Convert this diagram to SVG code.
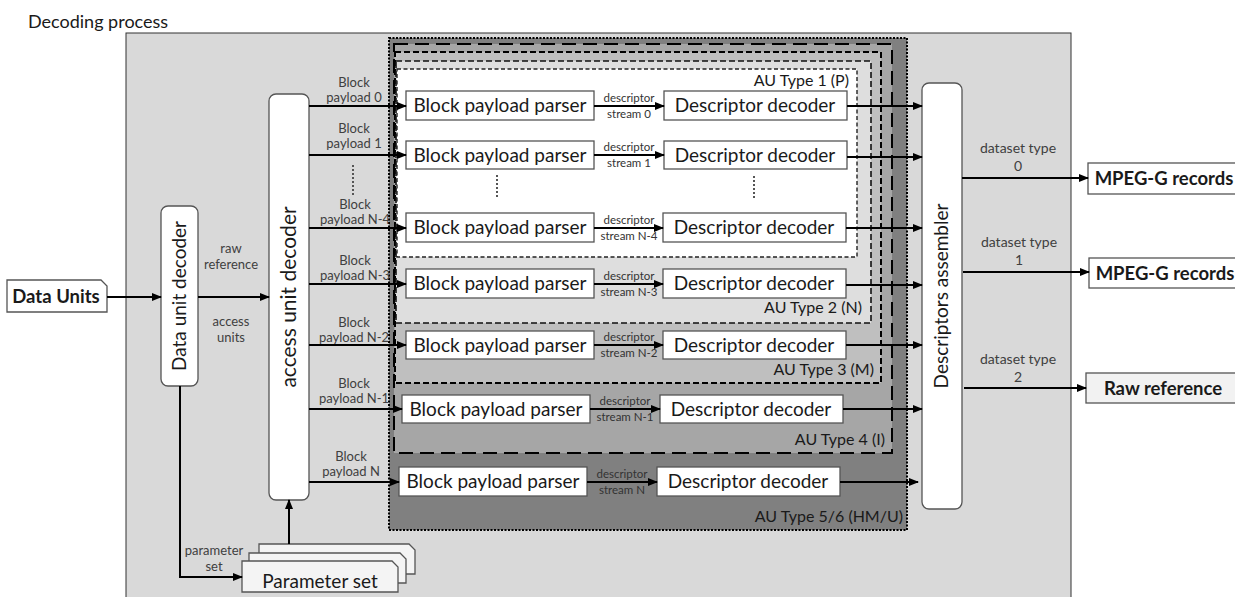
<svg xmlns="http://www.w3.org/2000/svg" width="1235" height="597" viewBox="0 0 1235 597">
<style>
text{font-family:Lato,"Open Sans",sans-serif;fill:#1a1a1a}
.lbl{font-size:13px;fill:#404040;text-anchor:middle}
.ds{font-size:14px;fill:#404040;text-anchor:middle}
.sm{font-size:11.5px;fill:#333;text-anchor:middle}
.big{font-size:19px;text-anchor:middle}
.au{font-size:16px;text-anchor:end}
.bold{font-size:18.5px;font-weight:bold;text-anchor:middle}
.box{fill:#fff;stroke:#555;stroke-width:1.3}
.con{stroke:#000;stroke-width:2;fill:none}
.dot{stroke:#555;stroke-width:2;stroke-dasharray:2,2;fill:none}
</style>
<defs>
<marker id="ah" markerUnits="userSpaceOnUse" markerWidth="10" markerHeight="8" refX="9" refY="4" orient="auto">
<path d="M0,0 L10,4 L0,8 Z" fill="#000"/>
</marker>
</defs>
<rect width="1235" height="597" fill="#fff"/>
<text x="28" y="28" style="font-size:18px">Decoding process</text>
<rect x="126" y="33" width="945" height="580" fill="#d9d9d9" stroke="#333" stroke-width="1"/>

<g id="au56">
<rect x="389" y="38" width="518" height="492" fill="#808080" stroke="#000" stroke-width="2" stroke-dasharray="2,1.5"/>
<text class="au" x="903" y="522">AU Type 5/6 (HM/U)</text>
</g>
<g id="au4">
<rect x="394" y="44" width="498" height="409" fill="#a6a6a6" stroke="#000" stroke-width="2" stroke-dasharray="14,7"/>
<text class="au" x="885" y="445">AU Type 4 (I)</text>
</g>
<g id="au3">
<rect x="395" y="52" width="486" height="331" fill="#bfbfbf" stroke="#000" stroke-width="2" stroke-dasharray="6,3"/>
<text class="au" x="874" y="375">AU Type 3 (M)</text>
</g>
<g id="au2">
<rect x="396" y="61" width="475" height="262" fill="#dedede" stroke="#111" stroke-width="1.6" stroke-dasharray="6,3"/>
<text class="au" x="862" y="313">AU Type 2 (N)</text>
</g>
<g id="au1">
<rect x="397" y="69" width="460" height="188" fill="#fff" stroke="#222" stroke-width="1.4" stroke-dasharray="4,2.5"/>
<text class="au" x="849" y="86">AU Type 1 (P)</text>
</g>

<g id="data-units">
<path d="M7,280 H101 L107,286 V312 H7 Z" fill="#fff" stroke="#555" stroke-width="1.3"/>
<text class="bold" x="56" y="303">Data Units</text>
</g>
<g id="data-unit-decoder">
<rect x="161" y="206" width="37" height="180" rx="7" class="box"/>
<text transform="translate(186,296) rotate(-90)" style="font-size:19px;text-anchor:middle">Data unit decoder</text>
</g>
<g id="access-unit-decoder">
<rect x="269" y="94" width="40" height="406" rx="7" class="box"/>
<text transform="translate(296,297) rotate(-90)" style="font-size:21px;text-anchor:middle">access unit decoder</text>
</g>
<g id="descriptors-assembler">
<rect x="922" y="83" width="40" height="426" rx="7" class="box"/>
<text transform="translate(948,296) rotate(-90)" style="font-size:19px;text-anchor:middle">Descriptors assembler</text>
</g>
<g id="parameter-set">
<path d="M259,544 H409 L415,550 V574 H259 Z" fill="#f4f4f4" stroke="#555" stroke-width="1.3"/>
<path d="M249,553 H400 L406,559 V583 H249 Z" fill="#f4f4f4" stroke="#555" stroke-width="1.3"/>
<path d="M242,561 H392 L398,567 V592 H242 Z" fill="#f4f4f4" stroke="#555" stroke-width="1.3"/>
<text class="big" x="320" y="588">Parameter set</text>
</g>

<g id="parsers">
<g id="bpp0"><rect x="406" y="91" width="188" height="29" class="box"/><text class="big" x="500" y="112">Block payload parser</text></g>
<g id="bpp1"><rect x="406" y="141" width="188" height="28" class="box"/><text class="big" x="500" y="162">Block payload parser</text></g>
<g id="bpp4"><rect x="406" y="213" width="188" height="29" class="box"/><text class="big" x="500" y="234">Block payload parser</text></g>
<g id="bpp3"><rect x="406" y="269" width="188" height="29" class="box"/><text class="big" x="500" y="290">Block payload parser</text></g>
<g id="bpp2"><rect x="406" y="331" width="188" height="28" class="box"/><text class="big" x="500" y="352">Block payload parser</text></g>
<g id="bpp1n"><rect x="402" y="395" width="188" height="28" class="box"/><text class="big" x="496" y="416">Block payload parser</text></g>
<g id="bppn"><rect x="399" y="467" width="188" height="29" class="box"/><text class="big" x="493" y="488">Block payload parser</text></g>
</g>
<g id="decoders">
<g id="dd0"><rect x="664" y="91" width="183" height="29" class="box"/><text class="big" x="755" y="112">Descriptor decoder</text></g>
<g id="dd1"><rect x="664" y="141" width="183" height="28" class="box"/><text class="big" x="755" y="162">Descriptor decoder</text></g>
<g id="dd4"><rect x="663" y="213" width="183" height="29" class="box"/><text class="big" x="754" y="234">Descriptor decoder</text></g>
<g id="dd3"><rect x="663" y="269" width="183" height="29" class="box"/><text class="big" x="754" y="290">Descriptor decoder</text></g>
<g id="dd2"><rect x="663" y="331" width="183" height="28" class="box"/><text class="big" x="754" y="352">Descriptor decoder</text></g>
<g id="dd1n"><rect x="660" y="395" width="183" height="28" class="box"/><text class="big" x="751" y="416">Descriptor decoder</text></g>
<g id="ddn"><rect x="657" y="467" width="183" height="29" class="box"/><text class="big" x="748" y="488">Descriptor decoder</text></g>
</g>
<g id="outputs">
<g id="mpeg0"><rect x="1088" y="163" width="150" height="31" class="box"/><text class="bold" x="1164" y="185">MPEG-G records</text></g>
<g id="mpeg1"><rect x="1089" y="258" width="150" height="30" class="box"/><text class="bold" x="1165" y="280">MPEG-G records</text></g>
<g id="rawref"><rect x="1086" y="373" width="152" height="30" fill="#f2f2f2" stroke="#555" stroke-width="1.3"/><text class="bold" x="1163" y="395">Raw reference</text></g>
</g>

<g id="connectors">
<line class="con" x1="107" y1="297" x2="161" y2="297" marker-end="url(#ah)"/>
<line class="con" x1="198" y1="297" x2="269" y2="297" marker-end="url(#ah)"/>
<polyline class="con" points="180,386 180,577 242,577" marker-end="url(#ah)"/>
<line class="con" x1="289" y1="544" x2="289" y2="500" marker-end="url(#ah)"/>

<line class="con" x1="309" y1="106" x2="406" y2="106" marker-end="url(#ah)"/>
<line class="con" x1="309" y1="155" x2="406" y2="155" marker-end="url(#ah)"/>
<line class="con" x1="309" y1="228" x2="406" y2="228" marker-end="url(#ah)"/>
<line class="con" x1="309" y1="284" x2="406" y2="284" marker-end="url(#ah)"/>
<line class="con" x1="309" y1="345" x2="406" y2="345" marker-end="url(#ah)"/>
<line class="con" x1="309" y1="409" x2="402" y2="409" marker-end="url(#ah)"/>
<line class="con" x1="309" y1="482" x2="399" y2="482" marker-end="url(#ah)"/>

<line class="con" x1="594" y1="106" x2="664" y2="106" marker-end="url(#ah)"/>
<line class="con" x1="594" y1="155" x2="664" y2="155" marker-end="url(#ah)"/>
<line class="con" x1="594" y1="228" x2="663" y2="228" marker-end="url(#ah)"/>
<line class="con" x1="594" y1="284" x2="663" y2="284" marker-end="url(#ah)"/>
<line class="con" x1="594" y1="345" x2="663" y2="345" marker-end="url(#ah)"/>
<line class="con" x1="590" y1="409" x2="660" y2="409" marker-end="url(#ah)"/>
<line class="con" x1="587" y1="482" x2="657" y2="482" marker-end="url(#ah)"/>

<line class="con" x1="847" y1="106" x2="922" y2="106" marker-end="url(#ah)"/>
<line class="con" x1="847" y1="157" x2="922" y2="157" marker-end="url(#ah)"/>
<line class="con" x1="846" y1="228" x2="922" y2="228" marker-end="url(#ah)"/>
<line class="con" x1="846" y1="285" x2="922" y2="285" marker-end="url(#ah)"/>
<line class="con" x1="846" y1="345" x2="922" y2="345" marker-end="url(#ah)"/>
<line class="con" x1="843" y1="409" x2="922" y2="409" marker-end="url(#ah)"/>
<line class="con" x1="840" y1="482" x2="918" y2="482" marker-end="url(#ah)"/>

<line class="con" x1="962" y1="178" x2="1088" y2="178" marker-end="url(#ah)"/>
<line class="con" x1="963" y1="272" x2="1089" y2="272" marker-end="url(#ah)"/>
<line class="con" x1="964" y1="388" x2="1086" y2="388" marker-end="url(#ah)"/>

<line class="dot" x1="353" y1="165" x2="353" y2="195"/>
<line class="dot" x1="497" y1="175" x2="497" y2="199"/>
<line class="dot" x1="754" y1="176" x2="754" y2="200"/>
</g>

<g id="labels">
<text class="lbl" x="231" y="253">raw</text>
<text class="lbl" x="231" y="269">reference</text>
<text class="lbl" x="231" y="326">access</text>
<text class="lbl" x="231" y="342">units</text>
<text class="lbl" x="214" y="555">parameter</text>
<text class="lbl" x="214" y="571">set</text>

<text class="lbl" x="354" y="87">Block</text><text class="lbl" x="354" y="102">payload 0</text>
<text class="lbl" x="354" y="133">Block</text><text class="lbl" x="354" y="148">payload 1</text>
<text class="lbl" x="355" y="209">Block</text><text class="lbl" x="355" y="224">payload N-4</text>
<text class="lbl" x="355" y="265">Block</text><text class="lbl" x="355" y="280">payload N-3</text>
<text class="lbl" x="354" y="327">Block</text><text class="lbl" x="354" y="342">payload N-2</text>
<text class="lbl" x="354" y="388">Block</text><text class="lbl" x="354" y="403">payload N-1</text>
<text class="lbl" x="351" y="461">Block</text><text class="lbl" x="351" y="476">payload N</text>

<text class="sm" x="629" y="102">descriptor</text><text class="sm" x="629" y="118">stream 0</text>
<text class="sm" x="629" y="151">descriptor</text><text class="sm" x="629" y="167">stream 1</text>
<text class="sm" x="629" y="224">descriptor</text><text class="sm" x="629" y="240">stream N-4</text>
<text class="sm" x="629" y="280">descriptor</text><text class="sm" x="629" y="296">stream N-3</text>
<text class="sm" x="629" y="341">descriptor</text><text class="sm" x="629" y="357">stream N-2</text>
<text class="sm" x="625" y="405">descriptor</text><text class="sm" x="625" y="421">stream N-1</text>
<text class="sm" x="622" y="478">descriptor</text><text class="sm" x="622" y="494">stream N</text>

<text class="ds" x="1018" y="153">dataset type</text><text class="ds" x="1018" y="171">0</text>
<text class="ds" x="1019" y="247">dataset type</text><text class="ds" x="1019" y="265">1</text>
<text class="ds" x="1018" y="364">dataset type</text><text class="ds" x="1018" y="382">2</text>
</g>
</svg>
